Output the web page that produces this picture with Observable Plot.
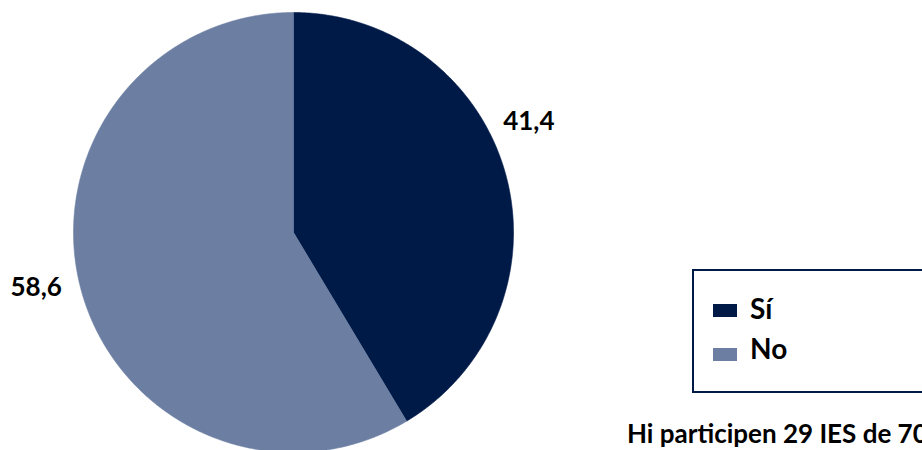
<!DOCTYPE html>
<html>
<head>
<meta charset="utf-8">
<script src="https://cdn.jsdelivr.net/npm/d3@7"></script>
<script src="https://cdn.jsdelivr.net/npm/@observablehq/plot@0.6"></script>
<style>
  html, body { margin: 0; padding: 0; background: #fff; }
  #wrap { position: relative; width: 922px; height: 450px; overflow: hidden; font-family: Lato, "Open Sans", sans-serif; }
  #wrap svg { position: absolute; left: 0; top: 0; }
  .legend { position: absolute; left: 692px; top: 269px; width: 320px; height: 124px; box-sizing: border-box; border: 2.5px solid #001a48; }
  .sw { position: absolute; width: 24px; height: 13px; }
  .lt { position: absolute; font-size: 28px; font-weight: 700; color: #000; line-height: 1.2; white-space: nowrap; }
  .caption { position: absolute; left: 627px; top: 418px; font-size: 26px; font-weight: 700; color: #000; line-height: 1.2; white-space: nowrap; }
</style>
</head>
<body>
<div id="wrap"></div>
<script>
const categories = ["Sí", "No"];
const values = [41.4, 58.6];
const colors = ["#001a48", "#6c7fa3"];
const caption = "Hi participen 29 IES de 70";

const fmt = v => String(v).replace(".", ",");

const arcs = d3.pie().sort(null).value(d => d)(values);

// polygon points for each slice (center + arc sampled along the slice)
const slicePts = [];
arcs.forEach((a, i) => {
  slicePts.push({cat: categories[i], x: 0, y: 0});
  const n = Math.max(2, Math.ceil((a.endAngle - a.startAngle) / 0.005));
  for (let k = 0; k <= n; k++) {
    const t = a.startAngle + (a.endAngle - a.startAngle) * k / n;
    slicePts.push({cat: categories[i], x: Math.sin(t), y: Math.cos(t)});
  }
  slicePts.push({cat: categories[i], x: 0, y: 0});
});

const labels = arcs.map((a, i) => {
  const m = (a.startAngle + a.endAngle) / 2;
  return {cat: categories[i], x: 1.19 * Math.sin(m), y: 1.19 * Math.cos(m), text: fmt(values[i])};
});

const chart = Plot.plot({
  width: 922,
  height: 450,
  margin: 0,
  x: {domain: [-1, 1], range: [73, 513], axis: null},
  y: {domain: [-1, 1], range: [452, 12], axis: null},
  color: {domain: categories, range: colors},
  style: {background: "transparent", overflow: "visible"},
  marks: [
    Plot.line(slicePts, {x: "x", y: "y", z: "cat", fill: "cat", stroke: "cat", strokeWidth: 0.6, curve: "linear"}),
    Plot.text(labels.filter(d => d.cat === categories[0]), {x: "x", y: "y", text: "text", dx: -17, dy: -41, fontSize: 26, fontWeight: 700, fill: "#000", fontFamily: "Lato, sans-serif"}),
    Plot.text(labels.filter(d => d.cat === categories[1]), {x: "x", y: "y", text: "text", dx: -5, dy: -15, fontSize: 26, fontWeight: 700, fill: "#000", fontFamily: "Lato, sans-serif"})
  ]
});

const wrap = document.getElementById("wrap");
wrap.appendChild(chart);

const legend = document.createElement("div");
legend.className = "legend";
categories.forEach((c, i) => {
  const sw = document.createElement("div");
  sw.className = "sw";
  sw.style.left = "19px";
  sw.style.top = (33 + i * 44) + "px";
  sw.style.background = colors[i];
  legend.appendChild(sw);
  const t = document.createElement("div");
  t.className = "lt";
  t.style.left = "56px";
  t.style.top = (21 + i * 40) + "px";
  t.textContent = c;
  legend.appendChild(t);
});
wrap.appendChild(legend);

const cap = document.createElement("div");
cap.className = "caption";
cap.textContent = caption;
wrap.appendChild(cap);
</script>
</body>
</html>
